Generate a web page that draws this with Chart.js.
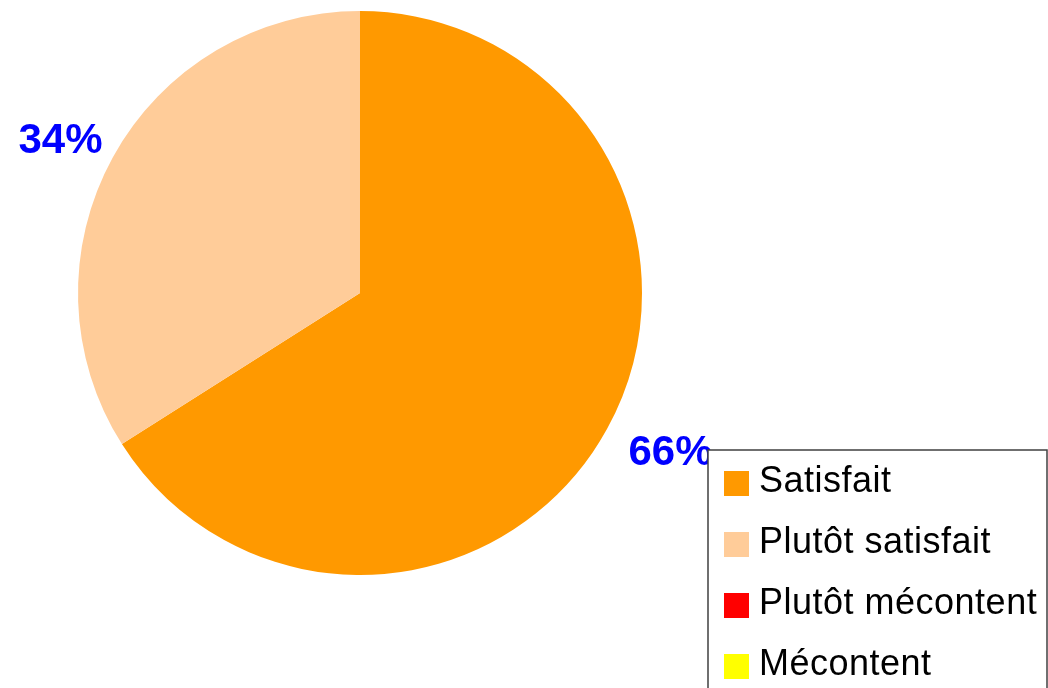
<!DOCTYPE html>
<html>
<head>
<meta charset="utf-8">
<script src="https://cdn.jsdelivr.net/npm/chart.js@4/dist/chart.umd.min.js"></script>
<style>
  html, body { margin: 0; padding: 0; background: #fff; }
  #wrap { width: 1048px; height: 688px; }
</style>
</head>
<body>
<div id="wrap"><canvas id="pie"></canvas></div>
<script>
const categories = ["Satisfait", "Plutôt satisfait", "Plutôt mécontent", "Mécontent"];
const shares = [66, 34, 0, 0];
const sliceColors = ["#FF9900", "#FFCC99", "#FF0000", "#FFFF00"];

// percent labels outside the slices + boxed legend at bottom right
const pieExtras = {
  id: "pieExtras",
  afterDraw(chart) {
    const ctx = chart.ctx;
    const meta = chart.getDatasetMeta(0);
    const nudge = [[14, -3], [-3, 11]];
    ctx.save();
    ctx.font = "bold 42px 'Liberation Sans', Arial, sans-serif";
    ctx.fillStyle = "#0000FF";
    ctx.textAlign = "center";
    ctx.textBaseline = "middle";
    meta.data.forEach((arc, i) => {
      if (!shares[i]) return;
      const p = arc.getProps(["x", "y", "startAngle", "endAngle", "outerRadius"], true);
      const mid = (p.startAngle + p.endAngle) / 2;
      const d = p.outerRadius * 1.2;
      const n = nudge[i] || [0, 0];
      ctx.fillText(shares[i] + "%", p.x + Math.cos(mid) * d + n[0], p.y + Math.sin(mid) * d + n[1]);
    });

    const bx = 708, by = 450, bw = 339, bh = 260;
    ctx.fillStyle = "#fff";
    ctx.fillRect(bx, by, bw, bh);
    ctx.strokeStyle = "#404040";
    ctx.lineWidth = 1.5;
    ctx.strokeRect(bx, by, bw, bh);

    ctx.font = "36px 'Liberation Sans', Arial, sans-serif";
    ctx.letterSpacing = "0.5px";
    ctx.textAlign = "left";
    ctx.textBaseline = "alphabetic";
    categories.forEach((name, i) => {
      const y = 471 + i * 61;
      ctx.fillStyle = sliceColors[i];
      ctx.fillRect(724, y, 25, 25);
      ctx.fillStyle = "#000";
      ctx.fillText(name, 759, y + 21);
    });
    ctx.restore();
  }
};

new Chart(document.getElementById("pie"), {
  type: "pie",
  data: {
    labels: categories,
    datasets: [{
      data: shares,
      backgroundColor: sliceColors,
      borderWidth: 0
    }]
  },
  options: {
    responsive: true,
    maintainAspectRatio: false,
    animation: false,
    layout: { padding: { left: 78, right: 406, top: 11, bottom: 113 } },
    plugins: {
      legend: { display: false },
      tooltip: { enabled: false }
    }
  },
  plugins: [pieExtras]
});
</script>
</body>
</html>
